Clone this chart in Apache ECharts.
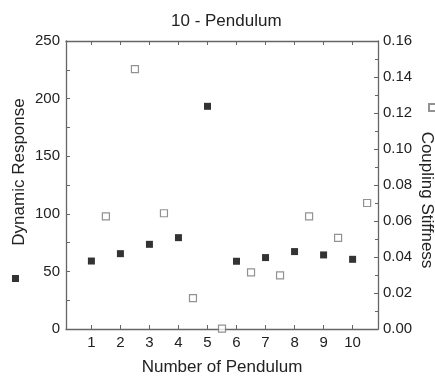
<!DOCTYPE html>
<html>
<head>
<meta charset="utf-8">
<script src="https://cdn.jsdelivr.net/npm/echarts@6/dist/echarts.min.js"></script>
<style>html,body{margin:0;padding:0;background:#fff}#c{width:435px;height:380px}</style>
</head>
<body>
<div id="c"></div>
<script>
var pendulumNumbers = [1, 2, 3, 4, 5, 6, 7, 8, 9, 10];
var dynamicResponse = [59, 65.4, 73.5, 79.3, 193.3, 58.8, 62, 67.2, 64.3, 60.5];
var stiffnessPositions = [1.5, 2.5, 3.5, 4.5, 5.5, 6.5, 7.5, 8.5, 9.5, 10.5];
var couplingStiffness = [0.0626, 0.1444, 0.0643, 0.0172, 0.0002, 0.0315, 0.0298, 0.0626, 0.0506, 0.070];
var xTickValues = [1, 2, 3, 4, 5, 6, 7, 8, 9, 10];

var FONT = 'Liberation Sans, Arial, sans-serif';
var TXT = '#222';
var AX = '#666';

var chart = echarts.init(document.getElementById('c'), null, {renderer: 'canvas'});
var axisLineStyle = {show: true, onZero: false, lineStyle: {color: AX, width: 1.3}};
chart.setOption({
  animation: false,
  backgroundColor: '#fff',
  title: {
    text: '10 - Pendulum', left: 166, top: 8,
    textStyle: {fontFamily: FONT, fontSize: 17, fontWeight: 'normal', color: TXT}
  },
  legend: [
    {data: ['Dynamic Response'], left: 12, top: 275, padding: 0, itemWidth: 7, itemHeight: 7,
     formatter: function(){return '';}, selectedMode: false},
    {data: ['Coupling Stiffness'], left: 428, top: 103, padding: 0, itemWidth: 7, itemHeight: 7,
     formatter: function(){return '';}, selectedMode: false}
  ],
  grid: {left: 66, right: 57, top: 41, bottom: 51, containLabel: false, outerBoundsMode: 'none'},
  xAxis: [{
    type: 'value', min: 0.125, max: 10.875, position: 'bottom',
    name: 'Number of Pendulum', nameLocation: 'middle', nameGap: 30,
    nameTextStyle: {fontFamily: FONT, fontSize: 17, color: TXT},
    axisLine: axisLineStyle,
    axisTick: {show: true, inside: true, length: 4, lineStyle: {color: AX}, customValues: xTickValues},
    axisLabel: {fontFamily: FONT, fontSize: 15, color: TXT, margin: 6, customValues: xTickValues},
    splitLine: {show: false}
  }, {
    type: 'value', min: 0.125, max: 10.875, position: 'top',
    axisLine: axisLineStyle,
    axisTick: {show: true, inside: true, length: 4, lineStyle: {color: AX}, customValues: xTickValues},
    axisLabel: {show: false},
    splitLine: {show: false}
  }],
  yAxis: [{
    type: 'value', min: 0, max: 250, interval: 50, position: 'left',
    name: 'Dynamic Response', nameLocation: 'middle', nameRotate: 90, nameGap: 38, nameMoveOverlap: false,
    nameTextStyle: {fontFamily: FONT, fontSize: 17, color: TXT, padding: [0, 0, 0, 26]},
    axisLine: axisLineStyle,
    axisTick: {show: true, inside: true, length: 4, lineStyle: {color: AX}},
    minorTick: {show: true, splitNumber: 2, length: 4, lineStyle: {color: AX}},
    axisLabel: {fontFamily: FONT, fontSize: 15, color: TXT, margin: 6},
    splitLine: {show: false}, minorSplitLine: {show: false}
  }, {
    type: 'value', min: 0, max: 0.16, interval: 0.02, position: 'right',
    name: 'Coupling Stiffness', nameLocation: 'middle', nameRotate: -90, nameGap: 40, nameMoveOverlap: false,
    nameTextStyle: {fontFamily: FONT, fontSize: 17, color: TXT, padding: [0, 0, 0, 30]},
    axisLine: axisLineStyle,
    axisTick: {show: true, inside: true, length: 4, lineStyle: {color: AX}},
    minorTick: {show: true, splitNumber: 2, length: 3, lineStyle: {color: AX}},
    axisLabel: {fontFamily: FONT, fontSize: 15, color: TXT, margin: 5,
      formatter: function(v){return v.toFixed(2);}},
    splitLine: {show: false}, minorSplitLine: {show: false}
  }],
  series: [{
    name: 'Dynamic Response', type: 'scatter', xAxisIndex: 0, yAxisIndex: 0,
    symbol: 'rect', symbolSize: 7,
    itemStyle: {color: '#000'},
    data: pendulumNumbers.map(function(x, i){return [x, dynamicResponse[i]];})
  }, {
    name: 'Coupling Stiffness', type: 'scatter', xAxisIndex: 0, yAxisIndex: 1,
    symbol: 'rect', symbolSize: 7, clip: false,
    itemStyle: {color: '#fff', borderColor: '#777', borderWidth: 1.2},
    data: stiffnessPositions.map(function(x, i){return [x, couplingStiffness[i]];})
  }]
});
</script>
</body>
</html>
